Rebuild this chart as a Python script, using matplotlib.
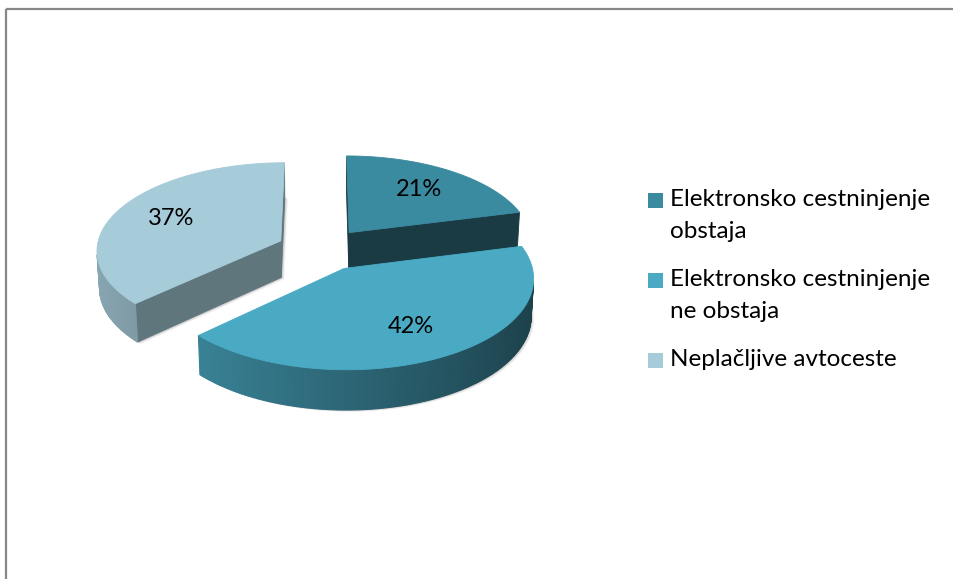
import numpy as np
import matplotlib
matplotlib.use("Agg")
import matplotlib.pyplot as plt
from matplotlib.patches import Polygon, Rectangle
from matplotlib.colors import to_rgb

# --- data -------------------------------------------------------------
categories = ["Elektronsko cestninjenje\nobstaja",
              "Elektronsko cestninjenje\nne obstaja",
              "Neplačljive avtoceste"]
shares = [21, 42, 37]
value_labels = ["21%", "42%", "37%"]

# --- style --------------------------------------------------------------
top_colors = ["#3A8AA0", "#4AAAC4", "#A6CBD9"]
cut_colors = ["#1A3A44", "#235561", "#5F767D"]
FONT = ["Lato", "DejaVu Sans"]

# 3-D view parameters (pie radius = 1)
ELEV = np.radians(28.16)
DIST = 9.074
FOCAL_X = 1653.4
FOCAL_Y = 1729.2
THICK = 0.2168
EXPLODE = 0.2452
CENTER_PX = (321.9, 286.1)

W, H = 954, 579
fig = plt.figure(figsize=(W / 100, H / 100), dpi=100)
ax = fig.add_axes([0, 0, 1, 1])
ax.set_xlim(0, W)
ax.set_ylim(H, 0)
ax.axis("off")

cam = np.array([0.0, -DIST * np.cos(ELEV), DIST * np.sin(ELEV)])


def project(X, Y, Z):
    X, Y, Z = np.broadcast_arrays(np.asarray(X, float), np.asarray(Y, float),
                                  np.asarray(Z, float))
    v = Y * np.sin(ELEV) + Z * np.cos(ELEV)
    depth = DIST + Y * np.cos(ELEV) - Z * np.sin(ELEV)
    sx = CENTER_PX[0] + FOCAL_X * X / depth
    sy = CENTER_PX[1] - FOCAL_Y * v / depth
    return np.column_stack([sx, sy])


def facing(normal, point):
    return np.dot(normal, cam - np.asarray(point)) > 0


def shade(color, k):
    return tuple(np.clip(np.array(to_rgb(color)) * k, 0, 1))


# slice angles, clockwise from 12 o'clock
fractions = np.array(shares, float) / sum(shares)
bounds = np.concatenate([[0], np.cumsum(fractions)]) * 2 * np.pi

slices = []
for i in range(len(shares)):
    t0, t1 = bounds[i], bounds[i + 1]
    tm = 0.5 * (t0 + t1)
    apex = np.array([EXPLODE * np.sin(tm), EXPLODE * np.cos(tm)])
    slices.append((apex[1], i, t0, t1, tm, apex))

# paint far slices first
slices.sort(key=lambda s: -s[0])

for _, i, t0, t1, tm, apex in slices:
    ax0, ay0 = apex
    n = max(int(np.degrees(t1 - t0)), 2)
    th = np.linspace(t0, t1, n + 1)
    rx = ax0 + np.sin(th)
    ry = ay0 + np.cos(th)

    # soft drop shadow of the slice outline
    outline = project(np.concatenate([[ax0], rx]), np.concatenate([[ay0], ry]), 0.0)
    for off, alpha in ((3.0, 0.06), (2.0, 0.08), (1.0, 0.10)):
        ax.add_patch(Polygon(outline + [off, off * 0.6], closed=True,
                             facecolor="#000000", edgecolor="none",
                             alpha=alpha, zorder=1))

    # cut faces
    for ang, sign in ((t0, -1), (t1, 1)):
        normal = np.array([sign * np.cos(ang), -sign * np.sin(ang), 0.0])
        px, py = ax0 + np.sin(ang), ay0 + np.cos(ang)
        mid = np.array([(ax0 + px) / 2, (ay0 + py) / 2, THICK / 2])
        if facing(normal, mid):
            quad = project([ax0, px, px, ax0], [ay0, py, py, ay0],
                           [0, 0, THICK, THICK])
            ax.add_patch(Polygon(quad, closed=True, facecolor=cut_colors[i],
                                 edgecolor=cut_colors[i], lw=0.6, zorder=2))

    # outer curved wall, lit from the left
    for k in range(n):
        a, b = th[k], th[k + 1]
        m = 0.5 * (a + b)
        normal = np.array([np.sin(m), np.cos(m), 0.0])
        mid = np.array([ax0 + np.sin(m), ay0 + np.cos(m), THICK / 2])
        if not facing(normal, mid):
            continue
        quad = project([rx[k], rx[k + 1], rx[k + 1], rx[k]],
                       [ry[k], ry[k + 1], ry[k + 1], ry[k]],
                       [0, 0, THICK, THICK])
        c = shade(top_colors[i], 0.6 - 0.22 * np.sin(m))
        ax.add_patch(Polygon(quad, closed=True, facecolor=c, edgecolor=c,
                             lw=0.8, zorder=2))

    # top face
    top = project(np.concatenate([[ax0], rx]), np.concatenate([[ay0], ry]),
                  THICK)
    ax.add_patch(Polygon(top, closed=True, facecolor=top_colors[i],
                         edgecolor=top_colors[i], lw=0.6, zorder=3))

    # value label on the top face
    lx, ly = ax0 + 0.68 * np.sin(tm), ay0 + 0.68 * np.cos(tm)
    p = project(lx, ly, THICK)[0]
    ax.text(p[0], p[1], value_labels[i], ha="center", va="center",
            fontsize=17, family=FONT, color="#000000", zorder=5)

# legend
for i, label in enumerate(categories):
    cy = 200 + 80 * i
    ax.add_patch(Rectangle((648, cy - 7), 15, 15, facecolor=top_colors[i],
                           edgecolor="none", zorder=5))
    for j, line in enumerate(label.split("\n")):
        ax.text(670, cy + 32 * j, line, ha="left", va="center",
                fontsize=17.5, family=FONT, color="#000000", zorder=5)

# chart frame
ax.add_patch(Rectangle((6.5, 8.5), 960, 600, facecolor="none",
                       edgecolor="#878787", lw=1.6, zorder=6))

fig.savefig("out.png", dpi=100, facecolor="white")
